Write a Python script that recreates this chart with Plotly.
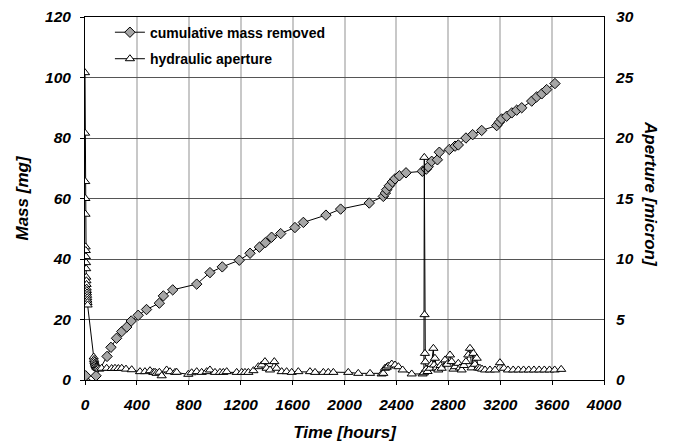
import plotly.graph_objects as go

# cumulative mass removed [mg]
mass_time = [0, 5, 85, 170, 200, 243, 283, 322, 356, 410, 474, 573, 604, 676, 861, 963,
             1058, 1189, 1272, 1344, 1390, 1438, 1508, 1618, 1683, 1857, 1970, 2191, 2299,
             2315, 2325, 2345, 2369, 2389, 2423, 2474, 2600, 2630, 2645, 2672, 2716, 2731,
             2808, 2852, 2877, 2936, 2988, 3057, 3173, 3193, 3211, 3250, 3289, 3327, 3366,
             3443, 3481, 3520, 3558, 3622]
mass_mg = [0.0, 1.4, 1.4, 7.8, 10.8, 13.8, 16.0, 17.5, 19.5, 21.4, 23.3, 25.4, 27.8, 29.8,
           31.7, 35.5, 37.4, 39.6, 41.9, 43.9, 45.4, 47.2, 48.4, 50.4, 52.1, 54.5, 56.5,
           58.5, 60.7, 61.8, 62.9, 64.2, 65.5, 66.5, 67.5, 68.5, 69.0, 69.7, 70.5, 72.3,
           72.8, 75.3, 76.2, 77.3, 77.7, 80.0, 81.1, 82.5, 84.1, 85.2, 86.3, 87.2, 88.3,
           89.2, 90.0, 92.2, 93.6, 94.6, 96.0, 98.0]

# hydraulic aperture [micron]
ap_time = [0, 1, 2, 3, 4, 5, 6, 7, 8, 9, 10, 11, 12, 13, 14, 15, 16, 17, 18, 19, 20,
           67, 70, 72, 75, 78, 82, 86, 90, 95, 100, 110,
           128, 167, 205, 231, 257, 283, 316, 360, 424, 462, 501, 527, 540, 552, 573, 591,
           629, 655, 694, 707, 796, 822, 861, 899, 938, 963, 1002, 1040, 1066, 1092,
           1169, 1208, 1233, 1259, 1298, 1336, 1362, 1387, 1400, 1426, 1459, 1477, 1516,
           1554, 1593, 1644, 1734, 1773, 1837, 1875, 1914, 2029, 2106, 2197, 2286, 2299,
           2312, 2325, 2338, 2364, 2389, 2415, 2448, 2518, 2602, 2612, 2615, 2617, 2620,
           2623, 2630, 2640, 2659, 2670, 2685, 2690, 2697, 2710, 2723, 2740, 2749, 2775,
           2790, 2813, 2826, 2840, 2852, 2877, 2890, 2903, 2920, 2936, 2954, 2967, 2980,
           2993, 3005, 3019, 3030, 3044, 3060, 3083, 3121, 3160, 3198, 3229, 3260, 3300,
           3340, 3380, 3420, 3460, 3500, 3540, 3580, 3620, 3670]
ap_micron = [25.4, 20.4, 16.4, 15.0, 13.7, 11.0, 10.7, 10.2, 9.7, 9.2, 8.5, 8.2, 7.9, 7.6,
             7.4, 7.2, 7.0, 6.8, 6.6, 6.4, 6.2,
             1.9, 1.7, 1.55, 1.4, 1.3, 1.2, 1.1, 1.05, 1.0, 0.95, 0.9,
             0.97, 0.97, 0.95, 0.97, 0.95, 0.97, 0.9, 0.85, 0.69, 0.69, 0.77, 0.63, 0.64,
             0.55, 0.64, 0.35, 0.83, 0.69, 0.63, 0.64, 0.47, 0.6, 0.69, 0.63, 0.69, 0.83,
             0.63, 0.63, 0.63, 0.69, 0.63, 0.63, 0.63, 0.63, 0.77, 1.1, 1.24, 1.52, 0.97,
             0.83, 1.52, 0.97, 0.69, 0.69, 0.63, 0.69, 0.69, 0.63, 0.63, 0.63, 0.63, 0.63,
             0.55, 0.55, 0.5, 0.55, 0.97, 1.05, 1.16, 1.32, 1.24, 1.1, 0.83, 0.5, 0.5, 0.6,
             18.4, 5.4, 2.2, 1.5, 0.9, 0.7, 0.97, 1.3, 2.62, 1.24, 1.8, 1.0, 0.83, 1.2, 0.97,
             1.66, 1.3, 2.07, 1.52, 0.9, 1.1, 1.38, 1.0, 0.83, 1.2, 1.52, 2.07, 2.62, 1.0,
             2.2, 1.3, 1.8, 1.0, 0.97, 0.9, 0.83, 0.83, 0.83, 1.43, 0.97, 0.83, 0.83, 0.83,
             0.83, 0.83, 0.83, 0.83, 0.83, 0.83, 0.83, 0.88]

x_ticks = [0, 400, 800, 1200, 1600, 2000, 2400, 2800, 3200, 3600, 4000]
mass_ticks = [0, 20, 40, 60, 80, 100, 120]
ap_ticks = [0, 5, 10, 15, 20, 25, 30]

FONT = "Liberation Sans, Arial, sans-serif"
tickfont = dict(family=FONT, size=15.5, color="black", weight="bold", style="italic")
titlefont = dict(family=FONT, size=17, color="black", weight="bold", style="italic")

fig = go.Figure()
fig.add_trace(go.Scatter(
    x=mass_time, y=mass_mg, mode="lines+markers", name="cumulative mass removed",
    line=dict(color="black", width=1),
    marker=dict(symbol="diamond", size=8, color="#A6A6A6", line=dict(color="black", width=1)),
    legend="legend"))
fig.add_trace(go.Scatter(
    x=ap_time, y=ap_micron, mode="lines+markers", name="hydraulic aperture", yaxis="y2",
    line=dict(color="black", width=1),
    marker=dict(symbol="triangle-up", size=8, color="white", line=dict(color="black", width=1)),
    legend="legend2"))

legfont = dict(family=FONT, size=14, color="black", weight="bold")
fig.update_layout(
    width=675, height=447,
    margin=dict(l=85, r=71, t=17, b=67),
    paper_bgcolor="white", plot_bgcolor="white",
    showlegend=True,
    legend=dict(x=0.048, y=0.957, xanchor="left", yanchor="middle", font=legfont,
                bgcolor="rgba(0,0,0,0)", borderwidth=0),
    legend2=dict(x=0.048, y=0.884, xanchor="left", yanchor="middle", font=legfont,
                 bgcolor="rgba(0,0,0,0)", borderwidth=0),
    xaxis=dict(range=[0, 4000], tickvals=x_ticks, ticktext=[str(v) for v in x_ticks],
               showgrid=True, gridcolor="#C8C8C8", gridwidth=1.5, automargin=False,
               showline=True, linecolor="black", linewidth=1, mirror=True,
               ticks="outside", ticklen=4, tickcolor="black", ticklabelstandoff=6,
               tickfont=tickfont, zeroline=False,
               title=dict(text="Time [hours]", font=titlefont, standoff=14)),
    yaxis=dict(range=[0, 120], tickvals=mass_ticks, ticktext=[str(v) for v in mass_ticks],
               showgrid=True, gridcolor="#555555", gridwidth=1, automargin=False,
               showline=True, linecolor="black", linewidth=1, mirror=True,
               ticks="outside", ticklen=4, tickcolor="black", ticklabelstandoff=6,
               tickfont=tickfont, zeroline=False,
               title=dict(text="Mass [mg]", font=titlefont, standoff=12)),
    yaxis2=dict(range=[0, 30], tickvals=ap_ticks, ticktext=[str(v) for v in ap_ticks],
                overlaying="y", side="right", showgrid=False, automargin=False,
                showline=True, linecolor="black", linewidth=1,
                ticks="", ticklabelstandoff=8, tickfont=tickfont, zeroline=False),
    annotations=[dict(text="Aperture [micron]", textangle=90, xref="paper", yref="paper",
                      x=(650 - 85) / 519, y=1 - (194 - 17) / 363, showarrow=False,
                      xanchor="center", yanchor="middle", font=titlefont)],
)

fig.write_html("out.html")
